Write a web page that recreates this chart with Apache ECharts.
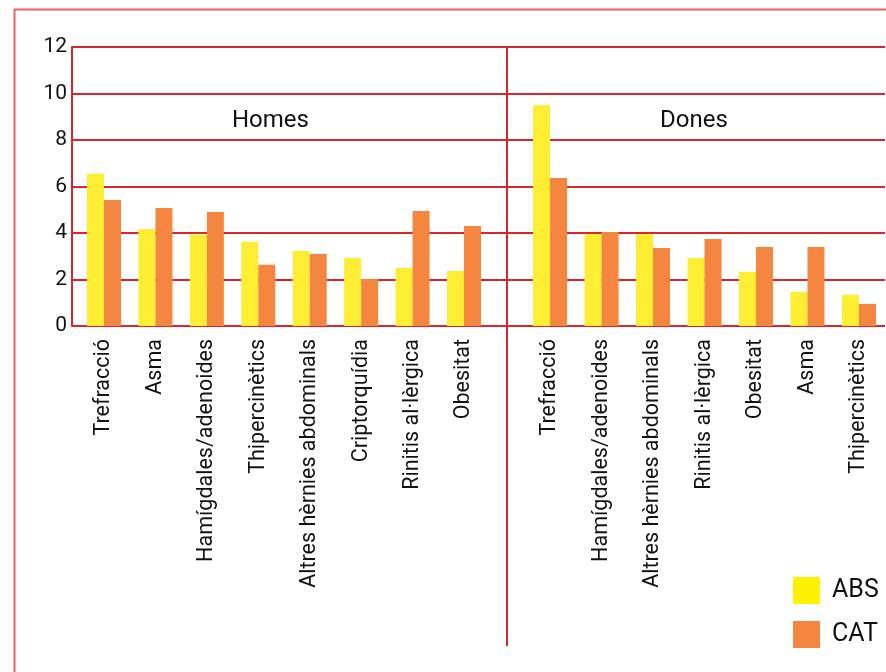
<!DOCTYPE html>
<html>
<head>
<meta charset="utf-8">
<script src="https://cdn.jsdelivr.net/npm/echarts@6/dist/echarts.min.js"></script>
<style>
html,body{margin:0;padding:0;background:#fff;}
#chart{width:886px;height:672px;}
</style>
</head>
<body>
<div id="chart"></div>
<script>
// ---- data ----
const homesCategories = ['Trefracció','Asma','Hamígdales/adenoides','Thipercinètics','Altres hèrnies abdominals','Criptorquídia','Rinitis al·lèrgica','Obesitat'];
const homesABS = [6.55, 4.17, 3.93, 3.62, 3.23, 2.93, 2.5, 2.37];
const homesCAT = [5.42, 5.08, 4.9, 2.63, 3.1, 2.02, 4.95, 4.3];
const donesCategories = ['Trefracció','Hamígdales/adenoides','Altres hèrnies abdominals','Rinitis al·lèrgica','Obesitat','Asma','Thipercinètics'];
const donesABS = [9.5, 3.96, 3.96, 2.92, 2.33, 1.47, 1.34];
const donesCAT = [6.37, 4.04, 3.35, 3.74, 3.4, 3.4, 0.95];
const panelTitles = ['Homes','Dones'];
const seriesNames = ['ABS','CAT'];
const yTicks = {min: 0, max: 12, interval: 2};

const FONT = 'Roboto';
const RED = '#D9262D';
const YELLOW = '#FDEE33';
const ORANGE = '#F58640';

const chart = echarts.init(document.getElementById('chart'), null, {renderer: 'canvas'});

const plotTop = 47, plotH = 279;

function catAxis(idx, data) {
  return {
    type: 'category', gridIndex: idx, data: data,
    axisLine: {show: false}, axisTick: {show: false},
    axisLabel: {rotate: 90, margin: 13, fontFamily: FONT, fontSize: 21.5, color: '#111', interval: 0}
  };
}
function hiddenY(idx) {
  return {type: 'value', gridIndex: idx, min: yTicks.min, max: yTicks.max, interval: yTicks.interval, show: false, splitLine: {show: false}};
}
function bar(name, xi, data, color) {
  return {
    name: name, type: 'bar', xAxisIndex: xi, yAxisIndex: xi, data: data,
    barWidth: 17, barGap: '0%', itemStyle: {color: color}, silent: true, animation: false
  };
}

const option = {
  animation: false,
  backgroundColor: '#fff',
  textStyle: {fontFamily: FONT},
  title: [
    {text: panelTitles[0], left: 232, top: 109, padding: 0, textStyle: {fontFamily: FONT, fontSize: 24, fontWeight: 'normal', color: '#111'}},
    {text: panelTitles[1], left: 660, top: 109, padding: 0, textStyle: {fontFamily: FONT, fontSize: 24, fontWeight: 'normal', color: '#111'}}
  ],
  legend: {
    data: [
      {name: seriesNames[0], itemStyle: {color: '#FFF200'}},
      {name: seriesNames[1], itemStyle: {color: ORANGE}}
    ],
    orient: 'vertical', left: 793, top: 577, padding: 0,
    itemWidth: 27, itemHeight: 27, itemGap: 17, icon: 'rect',
    selectedMode: false,
    textStyle: {fontFamily: FONT, fontSize: 25, color: '#111', padding: [0, 0, 0, 7]}
  },
  grid: [
    {left: 72, top: plotTop, width: 813, height: plotH},
    {left: 78.3, top: plotTop, width: 411.4, height: plotH},
    {left: 524.3, top: plotTop, width: 360.4, height: plotH}
  ],
  xAxis: [
    {type: 'value', gridIndex: 0, show: false, min: 0, max: 1},
    catAxis(1, homesCategories),
    catAxis(2, donesCategories)
  ],
  yAxis: [
    {
      type: 'value', gridIndex: 0, min: yTicks.min, max: yTicks.max, interval: yTicks.interval,
      axisLine: {show: true, lineStyle: {color: RED, width: 2}},
      axisTick: {show: false},
      splitLine: {show: true, lineStyle: {color: RED, width: 2}},
      axisLabel: {margin: 5, fontFamily: FONT, fontSize: 21, color: '#111', padding: [0, 0, 14, 0]}
    },
    hiddenY(1), hiddenY(2)
  ],
  series: [
    bar(seriesNames[0], 1, homesABS, YELLOW),
    bar(seriesNames[1], 1, homesCAT, ORANGE),
    bar(seriesNames[0], 2, donesABS, YELLOW),
    bar(seriesNames[1], 2, donesCAT, ORANGE)
  ],
  graphic: [
    {type: 'rect', shape: {x: 14.5, y: 9.5, width: 900, height: 700}, style: {fill: 'none', stroke: '#EC5F68', lineWidth: 2}, silent: true, z: 0},
    {type: 'line', shape: {x1: 507, y1: plotTop, x2: 507, y2: 646}, style: {stroke: RED, lineWidth: 2}, silent: true, z: 10}
  ]
};
chart.setOption(option);
</script>
</body>
</html>
